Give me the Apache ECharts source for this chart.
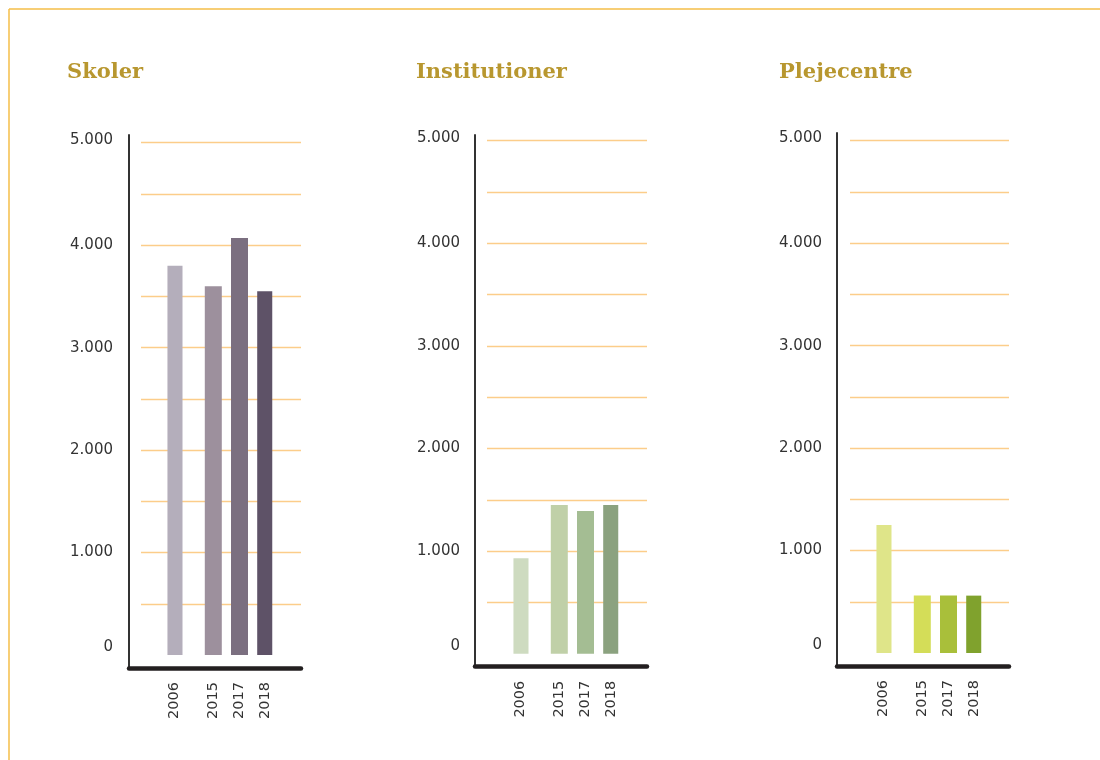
<!DOCTYPE html>
<html><head><meta charset="utf-8">
<script src="https://cdn.jsdelivr.net/npm/echarts@6/dist/echarts.min.js"></script>
<style>html,body{margin:0;padding:0;background:#fff}#c{width:1100px;height:760px}</style>
</head><body><div id="c"></div>
<script>
// ---- data ----
const titles = ['Skoler', 'Institutioner', 'Plejecentre'];
const years = ['2006', '2015', '2017', '2018'];
const skoler = [3800, 3600, 4070, 3550];
const institutioner = [930, 1450, 1390, 1450];
const plejecentre = [1250, 560, 560, 560];
const yTickLabels = ['0', '1.000', '2.000', '3.000', '4.000', '5.000'];
const yMax = 5000;

// ---- styles ----
const seriesValues = [skoler, institutioner, plejecentre];
const barColors = [
  ['#B4AEBB', '#9D909D', '#7B6F80', '#5E5267'],
  ['#CEDBC0', '#C0D0A8', '#A4BD93', '#8BA27F'],
  ['#DFE589', '#D4DD58', '#A9BF3A', '#80A22D']
];
const panels = [
  {gl: 141, gr: 301, top: 142.7, zero: 655,   axX: 129, axTop: 135, xLine: 668.7, labR: 113, titleX: 67},
  {gl: 487, gr: 647, top: 140.7, zero: 653.7, axX: 475, axTop: 135, xLine: 666.5, labR: 460, titleX: 416},
  {gl: 850, gr: 1009, top: 140.7, zero: 653,  axX: 837, axTop: 133, xLine: 666.3, labR: 822, titleX: 779}
];
const slotIdx = [0, 3, 5, 7];   // visual slot of each year (gap after 2006)
const nSlots = 8, slotW = 13.1;
const gridColor = '#FCCD8A', textColor = '#333333', titleColor = '#B8972F';
const labelFont = 'DejaVu Sans';

const chart = echarts.init(document.getElementById('c'), null, {renderer: 'canvas'});
const option = {
  animation: false,
  backgroundColor: '#ffffff',
  title: [], grid: [], xAxis: [], yAxis: [], series: [],
  graphic: [
    {type: 'line', shape: {x1: 9, y1: 9, x2: 1100, y2: 9}, style: {stroke: '#F5BE48', lineWidth: 1.5}},
    {type: 'line', shape: {x1: 9, y1: 9, x2: 9, y2: 760}, style: {stroke: '#F5BE48', lineWidth: 1.5}}
  ]
};

panels.forEach((p, i) => {
  option.title.push({
    text: titles[i], left: p.titleX, top: 60, padding: 0,
    textStyle: {color: titleColor, fontFamily: 'DejaVu Serif', fontWeight: 'bold', fontSize: 21, lineHeight: 26}
  });
  const h = p.zero - p.top;
  // grid A: gridlines + y labels
  const gA = option.grid.length;
  option.grid.push({left: p.gl, top: p.top, width: p.gr - p.gl, height: h, outerBoundsMode: 'none'});
  option.xAxis.push({gridIndex: gA, type: 'value', min: 0, max: 1, show: false});
  option.yAxis.push({
    gridIndex: gA, type: 'value', min: 0, max: yMax, interval: 500,
    axisLine: {show: false}, axisTick: {show: false},
    splitLine: {show: true, showMinLine: false, lineStyle: {color: gridColor, width: 1.3}},
    axisLabel: {
      margin: p.gl - p.labR, color: textColor, fontFamily: labelFont, fontSize: 15,
      formatter: v => {
        if (v % 1000 !== 0) return '';
        const t = yTickLabels[v / 1000];
        if (v === 0) return '{z|' + t + '}';
        if (v === yMax) return '{t|' + t + '}';
        return t;
      },
      rich: {
        z: {fontFamily: labelFont, fontSize: 15, color: textColor, padding: [0, 0, 16, 0]},
        t: {fontFamily: labelFont, fontSize: 15, color: textColor, padding: [0, 0, 5, 0]}
      }
    }
  });
  // grid B: bars
  const gB = option.grid.length;
  option.grid.push({left: p.gl + 33 - slotW / 2, top: p.top, width: slotW * nSlots, height: h, outerBoundsMode: 'none'});
  const cats = new Array(nSlots).fill('');
  const data = new Array(nSlots).fill('-');
  years.forEach((y, k) => {
    cats[slotIdx[k]] = y;
    data[slotIdx[k]] = {value: seriesValues[i][k], itemStyle: {color: barColors[i][k]}};
  });
  option.xAxis.push({
    gridIndex: gB, type: 'category', data: cats, boundaryGap: true,
    axisLine: {show: false}, axisTick: {show: false},
    axisLabel: {interval: 0, rotate: 90, margin: 27, color: textColor, fontFamily: labelFont, fontSize: 14.5}
  });
  option.yAxis.push({gridIndex: gB, type: 'value', min: 0, max: yMax, show: false});
  option.series.push({
    type: 'bar', xAxisIndex: gB, yAxisIndex: gB, barWidth: 17, data: data
  });
  // grid C: frame axes lines
  const gC = option.grid.length;
  option.grid.push({left: p.axX, top: p.axTop, width: p.gr - p.axX, height: p.xLine - p.axTop, outerBoundsMode: 'none'});
  option.xAxis.push({
    gridIndex: gC, type: 'value', min: 0, max: 1,
    axisLine: {show: true, onZero: false, lineStyle: {color: '#231F20', width: 4.5}},
    axisTick: {show: false}, axisLabel: {show: false}, splitLine: {show: false}
  });
  option.yAxis.push({
    gridIndex: gC, type: 'value', min: 0, max: 1,
    axisLine: {show: true, onZero: false, lineStyle: {color: '#333333', width: 2}},
    axisTick: {show: false}, axisLabel: {show: false}, splitLine: {show: false}
  });
});

chart.setOption(option);
</script>
</body></html>
